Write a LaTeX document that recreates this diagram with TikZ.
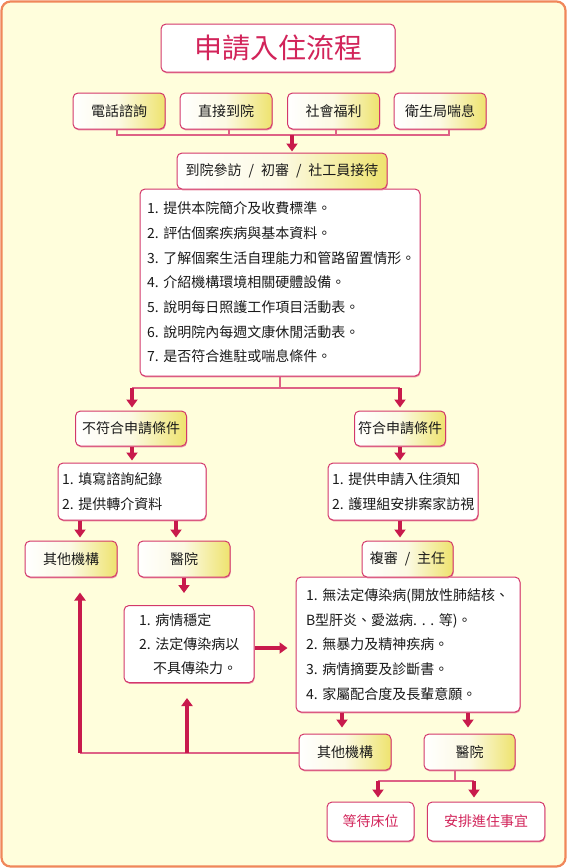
\documentclass[tikz,border=0pt]{standalone}
\usepackage{fontspec}
\setmainfont{Noto Sans CJK TC}
\usetikzlibrary{arrows.meta,shadows}
\definecolor{bg}{HTML}{FFFEDC}
\definecolor{framec}{HTML}{F0875A}
\definecolor{boxc}{HTML}{D3386A}
\definecolor{shc}{HTML}{E98DA3}
\definecolor{arrc}{HTML}{C81A4C}
\definecolor{linec}{HTML}{DE6286}
\definecolor{yel}{HTML}{EEE36E}
\definecolor{redtxt}{HTML}{D2245A}
\definecolor{txt}{HTML}{1A1A1A}
\begin{document}
\begin{tikzpicture}[x=1pt,y=-1pt,
  bx/.style={draw=boxc, line width=1pt, rounded corners=5pt, inner sep=0pt, fill=white,
    text=txt, font=\fontsize{14}{17}\selectfont,
    drop shadow={shadow xshift=0.6pt, shadow yshift=-1.3pt, fill=shc, opacity=1}},
  lab/.style={bx, left color=white, right color=yel, middle color=white!80!yel},
  lst/.style={bx, align=left, font=\fontsize{14}{24.7}\selectfont},
  conn/.style={draw=linec, line width=1.5pt},
  arr/.style={draw=arrc, line width=3.3pt, -{Triangle[width=11pt,length=8pt]}},
]
\useasboundingbox (0,0) rectangle (567,868);
\draw[draw=framec, line width=2.2pt, fill=bg, rounded corners=9pt] (1.5,1.5) rectangle (565.5,866.5);

% title
\node[bx, minimum width=234, minimum height=48, text=redtxt, font=\fontsize{28}{30}\selectfont] (title) at (278,48) {申請入住流程};

% sources
\node[lab, minimum width=92, minimum height=36] (s1) at (119,111) {電話諮詢};
\node[lab, minimum width=92, minimum height=36] (s2) at (226,111) {直接到院};
\node[lab, minimum width=92, minimum height=36] (s3) at (333.5,111) {社會福利};
\node[lab, minimum width=92, minimum height=36] (s4) at (440,111) {衛生局喘息};

\coordinate (b1) at (117,135);
\coordinate (b2) at (229,135);
\coordinate (b3) at (336,135);
\coordinate (b4) at (449,135);
\coordinate (bm) at (292,135);
\draw[conn] (s1.south -| b1) -- (b1) -- (b4) -- (s4.south -| b4);
\draw[conn] (s2.south -| b2) -- (b2);
\draw[conn] (s3.south -| b3) -- (b3);

% info box and visit label
\node[lst, minimum width=280, minimum height=187, text width=266pt] (info) at (280,282.5)
 {1.~提供本院簡介及收費標準。\\
  2.~評估個案疾病與基本資料。\\
  3.~了解個案生活自理能力和管路留置情形。\\
  4.~介紹機構環境相關硬體設備。\\
  5.~說明每日照護工作項目活動表。\\
  6.~說明院內每週文康休閒活動表。\\
  7.~是否符合進駐或喘息條件。};
\node[lab, minimum width=210, minimum height=36] (visit) at (282,171)
 {到院參訪\hspace{7pt}/\hspace{7pt}初審\hspace{7pt}/\hspace{7pt}社工員接待};
\draw[arr, shorten >=1pt] (bm) -- (visit.north -| bm);

% split
\coordinate (spl) at (132,388);
\coordinate (spr) at (400,388);
\draw[conn] (info.south) -- (info.south |- spl);
\draw[conn] (spl) -- (spr);

\node[lab, minimum width=111, minimum height=35] (no) at (131,428.5) {不符合申請條件};
\node[lab, minimum width=91, minimum height=35] (yes) at (400,428.5) {符合申請條件};
\draw[arr, shorten >=3pt] (spl) -- (no.north -| spl);
\draw[arr, shorten >=3pt] (spr) -- (yes.north -| spr);

\node[lst, minimum width=148, minimum height=57, text width=140pt, font=\fontsize{14}{25}\selectfont] (ll) at (132,491.5)
 {1.~填寫諮詢紀錄\\ 2.~提供轉介資料};
\node[lst, minimum width=150, minimum height=57, text width=142pt, font=\fontsize{14}{25}\selectfont] (rl) at (403,491.5)
 {1.~提供申請入住須知\\ 2.~護理組安排案家訪視};
\draw[arr, shorten >=2pt] (no.south -| spl) -- (ll.north -| spl);
\draw[arr, shorten >=2pt] (yes.south -| spr) -- (rl.north -| spr);

% left lower
\node[lab, minimum width=92, minimum height=36] (o1) at (71,559) {其他機構};
\node[lab, minimum width=92, minimum height=36] (h1) at (184,559) {醫院};
\coordinate (xa) at (80,530);
\coordinate (xb) at (176,530);
\draw[arr, shorten >=3pt] (ll.south -| xa) -- (o1.north -| xa);
\draw[arr, shorten >=3pt] (ll.south -| xb) -- (h1.north -| xb);

\node[lst, minimum width=130, minimum height=77, text width=100pt, font=\fontsize{14}{24}\selectfont] (cond) at (189,644)
 {1.~病情穩定\\ 2.~法定傳染病以\\ \hspace*{14pt}不具傳染力。};
\draw[arr, shorten >=12pt] (h1.south) -- (cond.north -| h1.south);

% right lower
\node[lst, minimum width=224, minimum height=135, text width=204pt, font=\fontsize{14}{24.6}\selectfont] (crit) at (408,644.5)
 {1.~無法定傳染病(開放性肺結核、\\
  B型肝炎、愛滋病.~.~.~等)。\\
  2.~無暴力及精神疾病。\\
  3.~病情摘要及診斷書。\\
  4.~家屬配合度及長輩意願。};
\node[lab, minimum width=91, minimum height=36] (rev) at (407.5,559) {複審\hspace{7pt}/\hspace{7pt}主任};
\draw[arr, shorten >=3pt] (rl.south -| spr) -- (rev.north -| spr);
\draw[arr, shorten >=8pt] ([yshift=-4pt]cond.east) -- ([yshift=-4pt]cond.east -| crit.west);

\node[lab, minimum width=92, minimum height=36] (o2) at (345,752) {其他機構};
\node[lab, minimum width=91, minimum height=36] (h2) at (469.5,752) {醫院};
\coordinate (xc) at (342,720);
\coordinate (xd) at (468,720);
\draw[arr, shorten >=6pt] (crit.south -| xc) -- (o2.north -| xc);
\draw[arr, shorten >=6pt] (crit.south -| xd) -- (h2.north -| xd);

% feedback
\coordinate (fb1) at (80,753);
\coordinate (fb2) at (187,753);
\draw[conn] (o2.west |- fb1) -- (fb1);
\draw[arr, shorten >=15pt] (fb1) -- (o1.south -| fb1);
\draw[arr, shorten >=15pt] (fb2) -- (cond.south -| fb2);

% hospital split
\node[bx, minimum width=87, minimum height=39, text=redtxt] (wait) at (370.5,821.5) {等待床位};
\node[bx, minimum width=117.5, minimum height=39, text=redtxt] (arrange) at (486,821.5) {安排進住事宜};
\coordinate (hb) at (455,781);
\coordinate (hl) at (378,781);
\coordinate (hr) at (474,781);
\draw[conn] (h2.south -| hb) -- (hb);
\draw[conn] (hl) -- (hr);
\draw[arr, shorten >=4pt] (hl) -- (wait.north -| hl);
\draw[arr, shorten >=4pt] (hr) -- (arrange.north -| hr);
\end{tikzpicture}
\end{document}
